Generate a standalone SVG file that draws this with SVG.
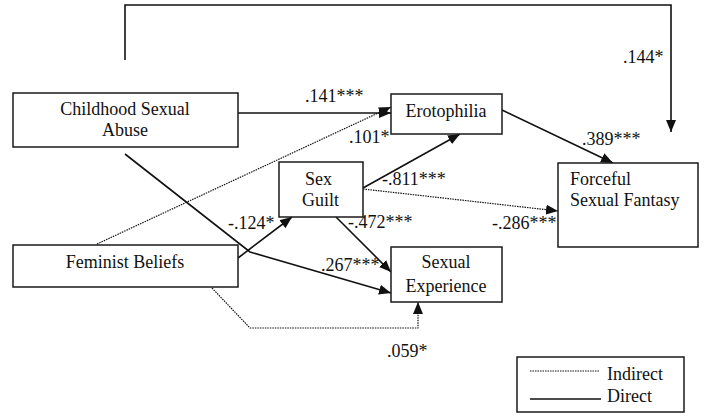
<svg xmlns="http://www.w3.org/2000/svg" width="707" height="417" viewBox="0 0 707 417">
<style>
.box{fill:#fff;stroke:#1a1a1a;stroke-width:1.5}
.t{font-family:"Liberation Serif","Times New Roman",serif;font-size:18px;fill:#111}
.c{text-anchor:middle}
.s{fill:none;stroke:#111;stroke-width:1.6}
.d{fill:none;stroke:#111;stroke-width:1.2;stroke-dasharray:1.5 1}
</style>
<defs>
<marker id="ah" markerUnits="userSpaceOnUse" markerWidth="12" markerHeight="10" refX="12" refY="5" orient="auto">
<path d="M0,0 L12,5 L0,10 z" fill="#111"/>
</marker>
</defs>
<rect width="707" height="417" fill="#fff"/>
<g id="connectors">
<polyline class="s" points="125,60 125,5 671,5 671,132" marker-end="url(#ah)"/>
<line class="s" x1="238" y1="113" x2="391" y2="113" marker-end="url(#ah)"/>
<line class="d" x1="97" y1="244" x2="391" y2="107" marker-end="url(#ah)"/>
<line class="s" x1="363" y1="188" x2="460" y2="134" marker-end="url(#ah)"/>
<line class="s" x1="502" y1="110" x2="613" y2="163" marker-end="url(#ah)"/>
<line class="d" x1="363" y1="189" x2="558" y2="211" marker-end="url(#ah)"/>
<line class="s" x1="336" y1="217" x2="391" y2="272" marker-end="url(#ah)"/>
<polyline class="s" points="125,154 250,252 391,293" marker-end="url(#ah)"/>
<line class="s" x1="238" y1="258" x2="292" y2="217" marker-end="url(#ah)"/>
<polyline class="d" points="212,288 250,328 418,328 418,302" marker-end="url(#ah)"/>
</g>
<g id="labels">
<text class="t" x="305" y="102">.141***</text>
<text class="t" x="623" y="63">.144*</text>
<text class="t" x="349" y="143">.101*</text>
<text class="t" x="582" y="145">.389***</text>
<text class="t" x="382" y="185">-.811***</text>
<text class="t" x="228" y="229">-.124*</text>
<text class="t" x="348" y="228">-.472***</text>
<text class="t" x="492" y="229">-.286***</text>
<text class="t" x="321" y="271">.267***</text>
<text class="t" x="387" y="357">.059*</text>
</g>
<g id="csa">
<rect class="box" x="13" y="93" width="225" height="54"/>
<text class="t c" x="125" y="115">Childhood Sexual</text>
<text class="t c" x="125" y="136">Abuse</text>
</g>
<g id="erotophilia">
<rect class="box" x="391" y="94" width="111" height="40"/>
<text class="t c" x="446" y="117">Erotophilia</text>
</g>
<g id="sexguilt">
<rect class="box" x="279" y="162" width="84" height="55"/>
<text class="t" x="305" y="185">Sex</text>
<text class="t" x="302" y="206">Guilt</text>
</g>
<g id="forceful">
<rect class="box" x="558" y="163" width="140" height="84"/>
<text class="t" x="570" y="185">Forceful</text>
<text class="t" x="570" y="206">Sexual Fantasy</text>
</g>
<g id="feminist">
<rect class="box" x="13" y="245" width="225" height="42"/>
<text class="t c" x="125" y="268">Feminist Beliefs</text>
</g>
<g id="sexexp">
<rect class="box" x="391" y="247" width="111" height="55"/>
<text class="t c" x="446" y="268">Sexual</text>
<text class="t c" x="446" y="292">Experience</text>
</g>
<g id="legend">
<rect class="box" x="517" y="357" width="167" height="55"/>
<line class="d" x1="530" y1="371" x2="599" y2="371"/>
<text class="t" x="607" y="380">Indirect</text>
<line class="s" x1="530" y1="399" x2="601" y2="399"/>
<text class="t" x="607" y="402">Direct</text>
</g>
</svg>
